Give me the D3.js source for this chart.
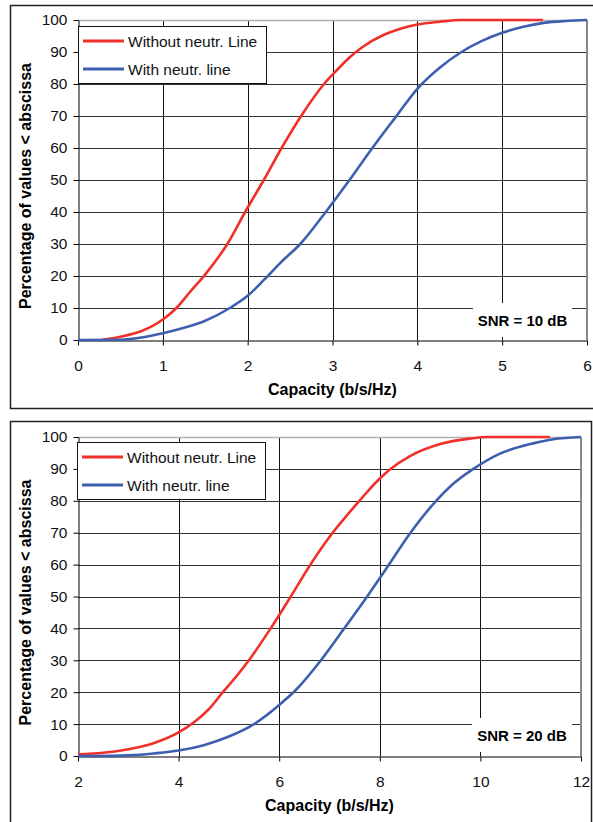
<!DOCTYPE html>
<meta charset="utf-8">
<title>Capacity CDF</title>
<script src="https://cdnjs.cloudflare.com/ajax/libs/d3/7.8.5/d3.min.js"></script>
<style>
  body { margin: 0; background: #fff; }
  svg { display: block; font-family: "Liberation Sans", Arial, sans-serif; }
</style>
<body>
</body>
<script>
// values: [capacity, percent]
var percentTicks = [0, 10, 20, 30, 40, 50, 60, 70, 80, 90, 100];
var snr10Ticks = [0, 1, 2, 3, 4, 5, 6];
var snr20Ticks = [2, 4, 6, 8, 10, 12];
var seriesNames = ["Without neutr. Line", "With neutr. line"];
var snrLabels = ["SNR = 10 dB", "SNR = 20 dB"];
var xTitle = "Capacity (b/s/Hz)";
var yTitle = "Percentage of values < abscissa";

var snr10Without = [[0.28, 0], [0.5, 1.0], [0.75, 2.8], [1.0, 6.4], [1.16, 10], [1.32, 15],
  [1.5, 20.5], [1.76, 30], [1.97, 40], [2.19, 50], [2.40, 60], [2.63, 70], [2.90, 80],
  [3.05, 84.3], [3.2, 88.3], [3.35, 91.5], [3.6, 95.3], [3.8, 97.3], [4.0, 98.6], [4.27, 99.5],
  [4.5, 100], [5.48, 100]];
var snr10With = [[0, 0], [0.5, 0.1], [0.75, 0.8], [1.0, 2.1], [1.25, 3.8], [1.5, 6.0],
  [1.79, 10], [2.0, 13.8], [2.2, 19], [2.4, 24.5], [2.62, 30], [2.92, 40], [3.2, 50],
  [3.47, 60], [3.74, 69.5], [4.0, 78.5], [4.26, 85], [4.52, 90], [4.75, 93.3], [5.0, 96.0],
  [5.25, 97.9], [5.49, 99.1], [5.75, 99.7], [6.0, 100]];
var snr20Without = [[2.0, 0.5], [2.5, 1.0], [3.0, 2.1], [3.5, 4.0], [4.0, 7.4], [4.3, 10.5],
  [4.59, 14.5], [4.88, 20], [5.15, 25], [5.42, 30.5], [5.83, 40], [6.23, 50], [6.60, 59.5],
  [7.04, 69.5], [7.35, 75.5], [7.65, 81], [7.95, 86.2], [8.2, 89.8], [8.6, 94], [9.2, 97.8],
  [9.79, 99.5], [10.12, 100], [11.38, 100]];
var snr20With = [[2.0, 0], [2.7, 0.05], [3.0, 0.2], [3.5, 0.8], [4.0, 1.7], [4.5, 3.4],
  [5.0, 6.1], [5.5, 10], [6.0, 16], [6.35, 21], [6.83, 30], [7.27, 39.5], [7.77, 50.5],
  [8.14, 59], [8.61, 70], [9.12, 80], [9.4, 84.5], [9.86, 90], [10.39, 94.8], [11.05, 98],
  [11.45, 99.3], [12.0, 100]];

var colors = ["#f0302a", "#3d5fae"];

var svg = d3.select("body").append("svg")
  .attr("width", 593)
  .attr("height", 822);

svg.append("rect").attr("width", 593).attr("height", 822).attr("fill", "#fff");

function drawChart(cfg) {
  var g = svg.append("g");

  g.append("rect")
    .attr("x", cfg.frame[0] + 0.5).attr("y", cfg.frame[1] + 0.5)
    .attr("width", cfg.frame[2]).attr("height", cfg.frame[3])
    .attr("fill", "none").attr("stroke", "#222").attr("stroke-width", 1.5);

  var x = d3.scaleLinear().domain(d3.extent(cfg.ticks)).range([cfg.left, cfg.right]);
  var y = d3.scaleLinear().domain([0, 100]).range([cfg.bottom, cfg.top]);

  // grid
  g.selectAll(".vgrid").data(cfg.ticks.slice(1, -1)).enter().append("line")
    .attr("x1", function(d) { return Math.round(x(d)) + 0.5; })
    .attr("x2", function(d) { return Math.round(x(d)) + 0.5; })
    .attr("y1", cfg.top).attr("y2", cfg.bottom)
    .attr("stroke", "#111").attr("stroke-width", 1);
  g.selectAll(".hgrid").data(percentTicks.slice(1, -1)).enter().append("line")
    .attr("x1", cfg.left).attr("x2", cfg.right)
    .attr("y1", function(d) { return Math.round(y(d)) + 0.5; })
    .attr("y2", function(d) { return Math.round(y(d)) + 0.5; })
    .attr("stroke", "#333").attr("stroke-width", 1);

  // plot border top / right
  g.append("line").attr("x1", cfg.left).attr("x2", cfg.right)
    .attr("y1", cfg.top + 0.5).attr("y2", cfg.top + 0.5)
    .attr("stroke", "#b0b0b0").attr("stroke-width", 1.5);
  g.append("line").attr("x1", cfg.right).attr("x2", cfg.right)
    .attr("y1", cfg.top).attr("y2", cfg.bottom)
    .attr("stroke", "#888").attr("stroke-width", 2);

  // SNR label box
  g.append("rect")
    .attr("x", cfg.snrBox[0]).attr("y", cfg.snrBox[1])
    .attr("width", cfg.snrBox[2]).attr("height", cfg.snrBox[3])
    .attr("fill", "#fff");
  g.append("text")
    .attr("x", cfg.snrBox[0] + cfg.snrBox[2] / 2)
    .attr("y", cfg.snrBox[1] + cfg.snrBox[3] / 2 + 5.5)
    .attr("text-anchor", "middle")
    .style("font-size", "15px").style("font-weight", "bold")
    .text(cfg.snr);

  // axes
  var yAxis = d3.axisLeft(y).tickValues(percentTicks).tickSize(5).tickSizeOuter(0).tickPadding(6);
  var ya = g.append("g").attr("transform", "translate(" + (cfg.left + 0.5) + ",0)").call(yAxis);
  var xAxis = d3.axisBottom(x).tickValues(cfg.ticks).tickFormat(d3.format("d"))
    .tickSize(5).tickSizeOuter(0).tickPadding(14);
  var xa = g.append("g").attr("transform", "translate(0," + (cfg.bottom + 0.5) + ")").call(xAxis);
  [ya, xa].forEach(function(a) {
    a.selectAll("path, line").attr("stroke", "#000");
    a.selectAll("text").style("font-size", "15.5px").attr("fill", "#111")
      .style("font-family", "'Liberation Sans', Arial, sans-serif");
  });

  // curves
  var line = d3.line()
    .x(function(d) { return x(d[0]); })
    .y(function(d) { return y(d[1]); })
    .curve(d3.curveMonotoneX);
  cfg.series.forEach(function(s, i) {
    g.append("path").datum(s)
      .attr("d", line)
      .attr("fill", "none")
      .attr("stroke", colors[i])
      .attr("stroke-width", 2.6)
      .attr("stroke-linejoin", "round");
  });

  // legend
  var lb = cfg.legend;
  g.append("rect")
    .attr("x", lb[0] + 0.5).attr("y", lb[1] + 0.5).attr("width", lb[2]).attr("height", lb[3])
    .attr("fill", "#fff").attr("stroke", "#111").attr("stroke-width", 1);
  seriesNames.forEach(function(name, i) {
    var ly = lb[1] + 15 + i * 28;
    g.append("line")
      .attr("x1", lb[0] + 5).attr("x2", lb[0] + 46)
      .attr("y1", ly).attr("y2", ly)
      .attr("stroke", colors[i]).attr("stroke-width", 3);
    g.append("text")
      .attr("x", lb[0] + 50).attr("y", ly + 5.5)
      .style("font-size", "15.5px").attr("fill", "#111")
      .text(name);
  });

  // titles
  g.append("text")
    .attr("x", (cfg.left + cfg.right) / 2).attr("y", cfg.bottom + 55)
    .attr("text-anchor", "middle")
    .style("font-size", "16px").style("font-weight", "bold")
    .text(xTitle);
  g.append("text")
    .attr("transform", "translate(31," + ((cfg.top + cfg.bottom) / 2 + 6) + ") rotate(-90)")
    .attr("text-anchor", "middle")
    .style("font-size", "16px").style("font-weight", "bold")
    .text(yTitle);
}

drawChart({
  frame: [10, 5, 600, 403],
  left: 78, right: 587, top: 20, bottom: 340,
  ticks: snr10Ticks,
  series: [snr10Without, snr10With],
  legend: [78, 26, 188, 57],
  snrBox: [473, 303, 99, 34],
  snr: snrLabels[0]
});

drawChart({
  frame: [10, 421, 581, 420],
  left: 78, right: 581, top: 437, bottom: 756,
  ticks: snr20Ticks,
  series: [snr20Without, snr20With],
  legend: [77, 442, 188, 57],
  snrBox: [472, 718, 100, 34],
  snr: snrLabels[1]
});
</script>
